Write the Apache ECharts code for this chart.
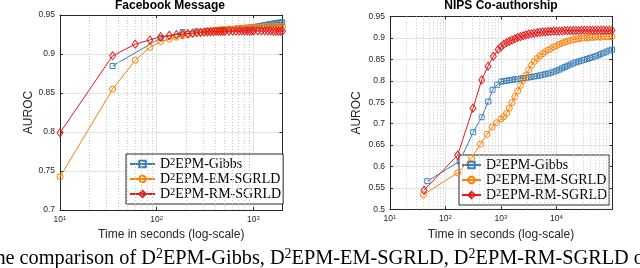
<!DOCTYPE html>
<html><head><meta charset="utf-8">
<script src="https://cdn.jsdelivr.net/npm/echarts@6/dist/echarts.min.js"></script>
<style>html,body{margin:0;padding:0;background:#fff;}#c{width:640px;height:268px;}</style>
</head><body><div id="c"></div>
<script>
// ---------- Facebook Message (left) ----------
const fbTimeGibbs = [35,110,185,260,335,410,485,560,635,710,785,860,935,1010,1085,1160,1235,1310,1385,1460,1535,1610,1685,1760,1835,1910,1985];
const fbGibbs = [0.8847,0.9205,0.928,0.929,0.9298,0.9303,0.9308,0.9313,0.9318,0.9323,0.9328,0.9333,0.9338,0.9345,0.9352,0.9358,0.9364,0.937,0.9375,0.938,0.9385,0.939,0.9394,0.9398,0.9401,0.9404,0.9406];
const fbTimeSGRLD = [10,35,60,85,110,135,160,185,210,235,260,285,310,335,360,385,410,435,460,485,510,560,610,660,710,760,810,860,910,960,1010,1110,1210,1310,1410,1510,1610,1710,1810,1910,2000];
const fbEM = [0.7425,0.855,0.892,0.9085,0.916,0.919,0.9215,0.9235,0.925,0.926,0.927,0.928,0.9285,0.929,0.9295,0.93,0.93,0.9305,0.931,0.931,0.9315,0.932,0.932,0.9325,0.933,0.933,0.9335,0.9335,0.934,0.934,0.934,0.9345,0.9345,0.935,0.935,0.935,0.9355,0.9355,0.9355,0.9355,0.9355];
const fbRM = [0.799,0.8977,0.9126,0.918,0.9222,0.9238,0.9248,0.9256,0.9262,0.9267,0.9272,0.9276,0.9279,0.9282,0.9284,0.9286,0.9288,0.9289,0.929,0.9291,0.9292,0.9293,0.9294,0.9294,0.9295,0.9295,0.9295,0.9296,0.9296,0.9296,0.9296,0.9296,0.9295,0.9295,0.9295,0.9295,0.9294,0.9294,0.9294,0.9294,0.9294];

// ---------- NIPS Co-authorship (right) ----------
const nipsTailTime = [1000,1120,1260,1410,1580,1780,2000,2240,2510,2820,3160,3550,3980,4470,5010,5620,6310,7080,7940,8910,10000,11200,12600,14100,15800,17800,20000,22400,25100,28200,31600,35500,39800,44700,50100,56200,63100,70800,79400,89100,100000];
const nipsTimeGibbs = [47,180,316,449,590,707,857].concat(nipsTailTime);
const nipsGibbs = [0.5656,0.612,0.680,0.715,0.7515,0.779,0.7907,
  0.798,0.799,0.800,0.801,0.802,0.803,0.804,0.805,0.806,0.807,0.808,0.809,0.810,0.811,0.8125,0.814,0.8155,0.817,0.819,0.821,
  0.8235,0.826,0.829,0.832,0.835,0.838,0.8405,0.843,0.845,0.847,0.849,0.851,0.853,0.855,0.857,0.8595,0.862,0.865,0.868,0.8705,0.8727];
const nipsTimeEM = [40,165,295,425,560,695,830].concat(nipsTailTime);
const nipsEM = [0.534,0.585,0.62,0.652,0.675,0.692,0.702,
  0.711,0.716,0.724,0.736,0.749,0.763,0.776,0.789,0.801,0.813,0.826,0.836,0.845,0.852,0.858,0.863,0.868,0.872,0.875,0.879,
  0.882,0.885,0.888,0.890,0.892,0.894,0.896,0.897,0.898,0.899,0.900,0.900,0.901,0.901,0.902,0.902,0.902,0.903,0.903,0.903,0.903];
const nipsTimeRM = [41,166,313,449,583,728,890].concat(nipsTailTime);
const nipsRM = [0.5445,0.6266,0.736,0.802,0.834,0.857,0.873,
  0.879,0.885,0.889,0.892,0.895,0.898,0.901,0.903,0.905,0.907,0.909,0.910,0.911,0.912,0.913,0.914,0.914,0.915,0.915,0.916,
  0.916,0.916,0.916,0.917,0.917,0.917,0.917,0.917,0.917,0.918,0.918,0.918,0.918,0.918,0.918,0.918,0.918,0.918,0.918,0.918,0.918];

// ---------- labels / ticks ----------
const seriesNames = ['D²EPM-Gibbs','D²EPM-EM-SGRLD','D²EPM-RM-SGRLD'];
const titles = ['Facebook Message','NIPS Co-authorship'];
const yLabel = 'AUROC';
const xLabel = 'Time in seconds (log-scale)';
const fbMinorX = [20,30,40,50,60,70,80,90,200,300,400,500,600,700,800,900];
const nipsMinorX = [20,30,40,50,60,70,80,90,200,300,400,500,600,700,800,900,2000,3000,4000,5000,6000,7000,8000,9000,20000,30000,40000,50000,60000,70000,80000,90000];
const captionParts = ['The comparison of D','2','EPM-Gibbs, D','2','EPM-EM-SGRLD, D','2','EPM-RM-SGRLD on'];

const colors = ['#377eb8','#ff7f00','#e41a1c'];
const symbols = ['rect','circle','diamond'];
const symSizes = [5,6,[6,8]];
const AX = '#262626';
const SANS = 'Liberation Sans';
const SERIF = 'Liberation Serif';

function pairs(t, v){ return t.map((x,i)=>[x, v[i]]); }

const chart = echarts.init(document.getElementById('c'), null, {renderer:'canvas'});

const grids = [
  {left:60, top:15, width:222.5, height:195},
  {left:390, top:16.5, width:222, height:192.8}
];
const xRanges = [[10,2000],[10,100000]];
const yRanges = [[0.7,0.95],[0.5,0.95]];

function logLabel(v){
  const e = Math.round(Math.log10(v));
  if (Math.abs(Math.log10(v)-e) > 1e-6) return '';
  return '{b|10}{s|' + e + '}';
}

const xAxes = [], yAxes = [];
[0,1].forEach(g=>{
  xAxes.push({
    gridIndex:g, type:'log', logBase:10, min:xRanges[g][0], max:xRanges[g][1], position:'bottom',
    name:xLabel, nameLocation:'middle', nameGap:19,
    nameTextStyle:{fontFamily:SANS, fontSize:12, color:AX},
    axisLine:{show:true, lineStyle:{color:AX, width:1}},
    axisTick:{show:true, inside:true, length:3, lineStyle:{color:AX}},
    splitLine:{show:true, lineStyle:{color:'#e4e4e4', width:1}},
    axisLabel:{formatter:logLabel, margin:5, showMaxLabel:false, color:AX,
      rich:{b:{fontFamily:SANS, fontSize:8.5, color:AX, verticalAlign:'bottom'},
            s:{fontFamily:SANS, fontSize:6, color:AX, verticalAlign:'top'}}}
  });
  yAxes.push({
    gridIndex:g, type:'value', min:yRanges[g][0], max:yRanges[g][1], interval:0.05, position:'left',
    name:yLabel, nameLocation:'middle', nameGap: g===0?23:27, nameRotate:90,
    nameTextStyle:{fontFamily:SANS, fontSize:12, color:AX},
    axisLine:{show:true, lineStyle:{color:AX, width:1}},
    axisTick:{show:true, inside:true, length:3, lineStyle:{color:AX}},
    splitLine:{show:true, lineStyle:{color:'#e4e4e4', width:1}},
    axisLabel:{fontFamily:SANS, fontSize:8.5, color:AX, margin:5}
  });
});
[0,1].forEach(g=>{
  xAxes.push({
    gridIndex:g, type:'log', logBase:10, min:xRanges[g][0], max:xRanges[g][1], position:'top',
    axisLine:{show:true, lineStyle:{color:AX, width:1}},
    axisTick:{show:true, inside:true, length:3, lineStyle:{color:AX}},
    splitLine:{show:false}, axisLabel:{show:false}
  });
  yAxes.push({
    gridIndex:g, type:'value', min:yRanges[g][0], max:yRanges[g][1], interval:0.05, position:'right',
    axisLine:{show:true, lineStyle:{color:AX, width:1}},
    axisTick:{show:true, inside:true, length:3, lineStyle:{color:AX}},
    splitLine:{show:false}, axisLabel:{show:false}
  });
});

const series = [];
// minor dotted grid lines (log decades) drawn through the axis scale
[[0,fbMinorX],[1,nipsMinorX]].forEach(([g,vals])=>{
  series.push({
    type:'line', name:'minorgrid'+g, xAxisIndex:g, yAxisIndex:g, data:[], z:1, silent:true,
    markLine:{silent:true, symbol:['none','none'], label:{show:false}, animation:false,
      lineStyle:{type:[1,2], color:'#c8c8c8', width:1},
      data: vals.map(v=>({xAxis:v}))}
  });
});
const dataSets = [
  [pairs(fbTimeGibbs,fbGibbs), pairs(fbTimeSGRLD,fbEM), pairs(fbTimeSGRLD,fbRM)],
  [pairs(nipsTimeGibbs,nipsGibbs), pairs(nipsTimeEM,nipsEM), pairs(nipsTimeRM,nipsRM)]
];
[0,1].forEach(g=>{
  dataSets[g].forEach((d,k)=>{
    series.push({
      type:'line', name:seriesNames[k], xAxisIndex:g, yAxisIndex:g, data:d,
      symbol:symbols[k], symbolSize:symSizes[k], showSymbol:true, clip:true,
      lineStyle:{width:1, color:colors[k]},
      itemStyle:{color:'rgba(255,255,255,0)', borderColor:colors[k], borderWidth:1},
      emphasis:{disabled:true}, z:3+k
    });
  });
});

function legendFmt(n){
  const parts = n.split('²');
  return '{t|' + parts[0] + '}{s|2}{t|' + parts[1] + '}';
}
const legendBase = {
  data:seriesNames, orient:'vertical', backgroundColor:'#fff', borderColor:AX, borderWidth:1,
  itemGap:1, itemHeight:8, selectedMode:false,
  formatter:legendFmt,
  textStyle:{fontFamily:SERIF, fontSize:14, color:'#000',
    rich:{t:{fontFamily:SERIF, fontSize:14, color:'#000', verticalAlign:'bottom'},
          s:{fontFamily:SERIF, fontSize:10.5, color:'#000', verticalAlign:'top'}}}
};

const capRich = {a:{fontFamily:SERIF, fontSize:20.3, lineHeight:22, fill:'#000', verticalAlign:'bottom'},
                 s:{fontFamily:SERIF, fontSize:14, lineHeight:13, fill:'#000', verticalAlign:'top'}};
const capText = captionParts.map((p,i)=> i%2===0 ? '{a|'+p+'}' : '{s|'+p+'}').join('');

chart.setOption({
  animation:false,
  backgroundColor:'#fff',
  grid:grids.map(g=>Object.assign({containLabel:false}, g)),
  xAxis:xAxes, yAxis:yAxes, series:series,
  legend:[Object.assign({left:126, top:154, itemWidth:25, padding:[3,2,3,3]}, legendBase),
          Object.assign({left:459, top:155, itemWidth:19, padding:[3,2,3,2]}, legendBase)],
  graphic:[
    {type:'text', x:170, y:6, style:{text:titles[0], font:'bold 12px "Liberation Sans"', fill:'#000', align:'center', verticalAlign:'middle'}},
    {type:'text', x:501, y:6, style:{text:titles[1], font:'bold 12px "Liberation Sans"', fill:'#000', align:'center', verticalAlign:'middle'}},
    {type:'text', x:-17, y:258, style:{text:capText, rich:capRich, align:'left', verticalAlign:'middle'}}
  ]
});
</script></body></html>
